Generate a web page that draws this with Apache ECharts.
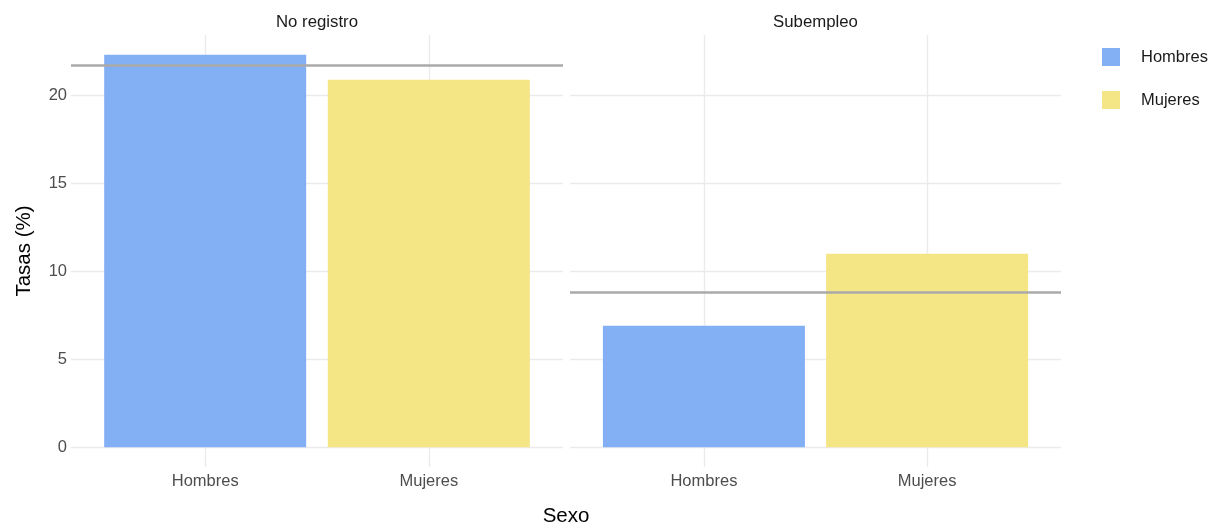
<!DOCTYPE html>
<html>
<head>
<meta charset="utf-8">
<script src="https://cdn.jsdelivr.net/npm/echarts@6/dist/echarts.min.js"></script>
<style>
html,body{margin:0;padding:0;background:#fff;}
#c{width:1211px;height:524px;}
</style>
</head>
<body>
<div id="c"></div>
<script>
// ---- data ----
const facets = ['No registro', 'Subempleo'];
const categories = ['Hombres', 'Mujeres'];
const hombres = [22.31, 6.91];
const mujeres = [20.89, 11.0];
const refLines = [21.70, 8.81];
const yTicks = [0, 5, 10, 15, 20];

// ---- styling ----
const FONT = '"Liberation Sans", Arial, Helvetica, sans-serif';
const colors = { Hombres: '#83AFF5', Mujeres: '#F4E585' };
const gridColor = '#EBEBEB';

// ggplot-like expansion of the y scale (5% each side)
const dataMax = Math.max(...hombres, ...mujeres, ...refLines);
const yMin = -0.05 * dataMax;
const yMax = dataMax * 1.05;

const panels = [
  { left: 71, width: 492 },
  { left: 570, width: 491 }
];
const panelTop = 35, panelHeight = 432;

const grids = panels.map(p => ({ left: p.left, width: p.width, top: panelTop, height: panelHeight, containLabel: false }));

const xAxes = panels.map((p, i) => ({
  type: 'value', gridIndex: i, min: 0.4, max: 2.6,
  axisLine: { show: false },
  axisTick: { show: false, customValues: [1, 2] },
  axisLabel: {
    customValues: [1, 2],
    formatter: v => categories[Math.round(v) - 1] || '',
    color: '#4D4D4D', fontSize: 16.5, fontFamily: FONT, margin: 6
  },
  splitLine: { show: true, lineStyle: { color: gridColor, width: 1.4 } }
}));

const yAxes = panels.map((p, i) => ({
  type: 'value', gridIndex: i, min: yMin, max: yMax,
  axisLine: { show: false },
  axisTick: { show: false, customValues: yTicks },
  axisLabel: {
    show: i === 0, customValues: yTicks,
    color: '#4D4D4D', fontSize: 16.5, fontFamily: FONT, margin: 4
  },
  splitLine: { show: true, lineStyle: { color: gridColor, width: 1.4 } }
}));

const series = [];
facets.forEach((f, i) => {
  series.push({
    name: 'Hombres', type: 'bar', xAxisIndex: i, yAxisIndex: i,
    barWidth: 202, barGap: '-100%',
    itemStyle: { color: colors.Hombres },
    data: [[1, hombres[i]]],
    z: 2
  });
  series.push({
    name: 'Mujeres', type: 'bar', xAxisIndex: i, yAxisIndex: i,
    barWidth: 202, barGap: '-100%',
    itemStyle: { color: colors.Mujeres },
    data: [[2, mujeres[i]]],
    z: 2,
    markLine: {
      silent: true, symbol: ['none', 'none'],
      label: { show: false },
      lineStyle: { color: '#AAAAAA', width: 2.6, type: 'solid' },
      data: [{ yAxis: refLines[i] }],
      z: 5
    }
  });
});

const graphics = facets.map((f, i) => ({
  type: 'text',
  x: panels[i].left + panels[i].width / 2, y: 22,
  style: { text: f, fill: '#1A1A1A', font: '16.8px ' + FONT, textAlign: 'center', textVerticalAlign: 'middle' }
}));
graphics.push({
  type: 'text', x: 566, y: 516,
  style: { text: 'Sexo', fill: '#000', font: '20.5px ' + FONT, textAlign: 'center', textVerticalAlign: 'middle' }
});
graphics.push({
  type: 'text', x: 24, y: 251, rotation: Math.PI / 2,
  style: { text: 'Tasas (%)', fill: '#000', font: '20.5px ' + FONT, textAlign: 'center', textVerticalAlign: 'middle' }
});

const chart = echarts.init(document.getElementById('c'), null, { renderer: 'canvas' });
chart.setOption({
  animation: false,
  backgroundColor: '#fff',
  grid: grids,
  xAxis: xAxes,
  yAxis: yAxes,
  legend: {
    data: categories, orient: 'vertical', left: 1097, top: 43,
    itemWidth: 18, itemHeight: 18, itemGap: 25, icon: 'rect',
    textStyle: { color: '#1A1A1A', fontSize: 16.5, fontFamily: FONT, padding: [0, 0, 0, 16] }
  },
  graphic: graphics,
  series: series
});
</script>
</body>
</html>
